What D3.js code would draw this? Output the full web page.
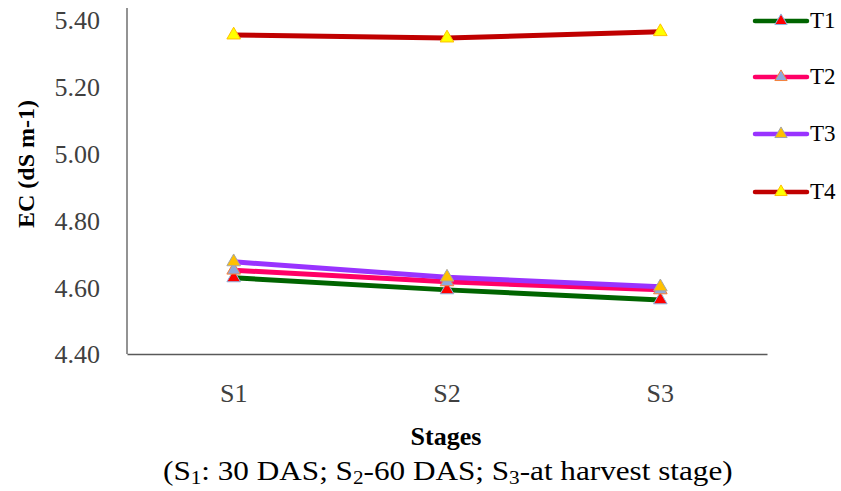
<!DOCTYPE html>
<html><head><meta charset="utf-8">
<script src="https://cdn.jsdelivr.net/npm/d3@7"></script>
<style>body{margin:0;background:#fff}svg{display:block}
svg text{font-family:"Liberation Serif","Times New Roman",Times,serif}</style>
</head><body>
<svg id="c" width="841" height="491"></svg>
<script>
const categories = ["S1","S2","S3"];
const seriesNames = ["T1","T2","T3","T4"];
const T1 = [4.628, 4.592, 4.562];
const T2 = [4.651, 4.616, 4.592];
const T3 = [4.676, 4.630, 4.601];
const T4 = [5.355, 5.346, 5.365];
const yTicks = [4.40, 4.60, 4.80, 5.00, 5.20, 5.40];
const lineColors = ["#006400","#FF0066","#9933FF","#C00000"];
const markerFill = ["#FF0000","#8EA9DB","#FFC000","#FFFF00"];
const markerStroke = ["#8EB4E3","#F4803A","#A5A5A5","#FFC000"];

const series = [T1,T2,T3,T4];
const FONT = "'Liberation Serif', 'Times New Roman', Times, serif";
const svg = d3.select("#c");
const x0 = 127, x1 = 767, yTop = 20, yBot = 354;
const x = d3.scaleBand().domain(categories).range([x0, x1]);
const y = d3.scaleLinear().domain([4.40, 5.40]).range([yBot, yTop]);

// axes
const yAxis = svg.append("g").attr("transform",`translate(${x0},0)`)
  .call(d3.axisLeft(y).tickValues(yTicks).tickFormat(d3.format(".2f")).tickSize(0).tickPadding(27));
yAxis.attr("font-family",null);
yAxis.select(".domain").attr("stroke","#595959").attr("stroke-width",1.3).attr("d",`M0,8V${yBot}`);
yAxis.selectAll("text").attr("font-family",FONT).attr("font-size",26).attr("fill","#404040").attr("dy","0.34em");

const xAxis = svg.append("g").attr("transform",`translate(0,${yBot})`)
  .call(d3.axisBottom(x).tickSize(0));
xAxis.attr("font-family",null);
xAxis.select(".domain").attr("stroke","#595959").attr("stroke-width",1.3);
xAxis.selectAll("text").attr("font-family",FONT).attr("font-size",26).attr("fill","#404040")
  .attr("y",48).attr("dy",null);

const cx = d => x(d) + x.bandwidth()/2;
const line = d3.line().x((d,i)=>cx(categories[i])).y(d=>y(d));
const tri = d3.symbol().type(d3.symbolTriangle).size(80);
const triL = d3.symbol().type(d3.symbolTriangle).size(65);

series.forEach((s,k)=>{
  svg.append("path").datum(s).attr("d",line).attr("fill","none")
    .attr("stroke",lineColors[k]).attr("stroke-width",5);
});
series.forEach((s,k)=>{
  svg.selectAll(null).data(s).enter().append("path")
    .attr("d",tri).attr("transform",(d,i)=>`translate(${cx(categories[i])},${y(d)})`)
    .attr("fill",markerFill[k]).attr("stroke",markerStroke[k]).attr("stroke-width",1);
});

// legend
const legY = [21, 77, 134, 192];
seriesNames.forEach((n,k)=>{
  const g = svg.append("g").attr("transform",`translate(0,${legY[k]})`);
  g.append("line").attr("x1",755).attr("x2",807).attr("y1",0).attr("y2",0)
    .attr("stroke",lineColors[k]).attr("stroke-width",4.5).attr("stroke-linecap","round");
  g.append("path").attr("d",triL).attr("transform","translate(781,0)")
    .attr("fill",markerFill[k]).attr("stroke",markerStroke[k]).attr("stroke-width",1);
  g.append("text").attr("x",810).attr("y",7).text(n)
    .attr("font-family",FONT).attr("font-size",23).attr("fill","#000");
});

// titles
svg.append("text").attr("transform","translate(34,164) rotate(-90)").attr("text-anchor","middle")
  .attr("font-family",FONT).attr("font-weight","bold").attr("font-size",24)
  .text("EC (dS m-1)");
svg.append("text").attr("x",446).attr("y",445).attr("text-anchor","middle")
  .attr("font-family",FONT).attr("font-weight","bold").attr("font-size",26)
  .text("Stages");
const capG = svg.append("g");
const cap = capG.append("text").attr("x",0).attr("y",0)
  .attr("font-family",FONT).attr("font-size",28).attr("fill","#000");
const parts = [["(S",0],["1",1],[": 30 DAS; S",0],["2",1],["-60 DAS; S",0],["3",1],["-at harvest stage)",0]];
parts.forEach(([t,sub])=>{
  cap.append("tspan").text(t).attr("font-size",sub?19:28)
    .attr("baseline-shift",sub?"-4":null);
});
const bb = cap.node().getBBox();
const sx = 570 / bb.width;
capG.attr("transform",`translate(163,480) scale(${sx},1) translate(${-bb.x},0)`);
</script>
</body></html>
